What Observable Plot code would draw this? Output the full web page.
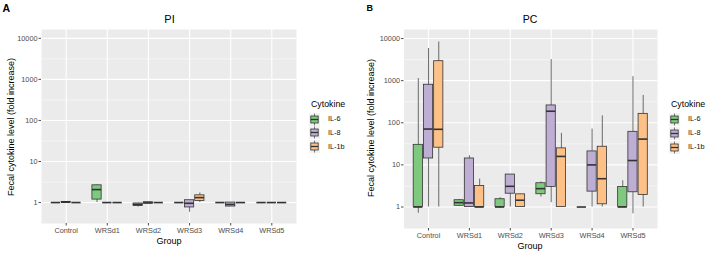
<!DOCTYPE html>
<html>
<head>
<meta charset="utf-8">
<script src="https://cdn.jsdelivr.net/npm/d3@7"></script>
<script src="https://cdn.jsdelivr.net/npm/@observablehq/plot@0.6"></script>
<style>
  html, body { margin: 0; padding: 0; background: #fff; }
  #wrap { position: relative; width: 708px; height: 253px; overflow: hidden; font-family: "Liberation Sans", Arial, sans-serif; }
  .abs { position: absolute; white-space: nowrap; line-height: 1; }
  .c { transform: translate(-50%, -50%); }
  .rot { transform: translate(-50%, -50%) rotate(-90deg); }
  .plot { position: absolute; top: 0; }
</style>
</head>
<body>
<div id="wrap"></div>
<script>
// ---------- data ----------
const groups = ["Control", "WRSd1", "WRSd2", "WRSd3", "WRSd4", "WRSd5"];
const cytokines = ["IL-6", "IL-8", "IL-1b"];
const colors = ["#7FC97F", "#BEAED4", "#FDC086"];
const yTicks = [1, 10, 100, 1000, 10000];
const yMinor = [3.162, 31.62, 316.2, 3162];

// each entry: [whisker low, Q1, median, Q3, whisker high], one per group
const piIL6  = [[1,1,1,1,1],[1.0,1.18,2.07,2.63,2.65],[0.78,0.82,0.9,0.95,0.97],[1,1,1,1,1],[1,1,1,1,1],[1,1,1,1,1]];
const piIL8  = [[1,1,1.02,1.04,1.04],[1,1,1,1,1],[0.95,0.95,0.98,1.02,1.02],[0.58,0.76,0.96,1.14,1.14],[0.8,0.8,0.9,1.0,1.0],[1,1,1,1,1]];
const piIL1b = [[1,1,1,1,1],[1,1,1,1,1],[1,1,1,1,1],[1.0,1.09,1.32,1.5,1.71],[1,1,1,1,1],[1,1,1,1,1]];

const pcIL6  = [[0.71,1,1,30,1120],[1.03,1.07,1.27,1.45,1.5],[0.93,1,1,1.53,1.67],[1.73,2.01,2.73,3.67,3.95],[1,1,1,1,1],[1,1,1,3.0,4.2]];
const pcIL8  = [[1,14.2,71,800,5800],[1,1,1.25,14.2,16.5],[1,2.07,3.1,5.9,5.9],[1.27,3.0,188,258,3170],[1,2.32,10,20.9,71],[0.69,2.24,12.7,61,1245]];
const pcIL1b = [[1,25.6,70,2900,8300],[1,1,1,3.17,4.6],[1,1,1.45,2.0,2.0],[1,1,15.9,24.7,56],[1,1.16,4.7,27,146],[1,1.93,41,163,446]];

function table(series) {
  const rows = [];
  series.forEach((s, ci) => s.forEach((v, gi) => rows.push({
    group: groups[gi], gi, cytokine: cytokines[ci], ci,
    lo: v[0], q1: v[1], med: v[2], q3: v[3], hi: v[4]
  })));
  return rows;
}

const dodge = 0.25, half = 0.1125;
const pos = d => d.gi + (d.ci - 1) * dodge;

function panel(rows, opts) {
  return Plot.plot({
    width: 354,
    height: 253,
    marginTop: opts.mt, marginBottom: opts.mb, marginLeft: opts.ml, marginRight: opts.mr,
    style: { fontFamily: "Liberation Sans, Arial, sans-serif", fontSize: "7.3px", background: "transparent" },
    x: { domain: [-0.6, 5.6] },
    y: { type: "log", domain: [Math.pow(10, -0.51), Math.pow(10, 4.215)] },
    color: { domain: cytokines, range: colors },
    marks: [
      Plot.frame({ fill: "#EBEBEB", stroke: null }),
      Plot.ruleY(yMinor, { stroke: "#fff", strokeWidth: 0.5 }),
      Plot.ruleY(yTicks, { stroke: "#fff", strokeWidth: 1.1 }),
      Plot.ruleX(groups.map((g, i) => i), { stroke: "#fff", strokeWidth: 1.1 }),
      Plot.ruleX(rows, { x: pos, y1: "lo", y2: "hi", stroke: "#5a5a5a", strokeWidth: 0.9 }),
      Plot.rectY(rows.filter(d => d.q3 > d.q1), {
        x1: d => pos(d) - half, x2: d => pos(d) + half, y1: "q1", y2: "q3",
        fill: "cytokine", stroke: "#333", strokeWidth: 0.8
      }),
      Plot.ruleY(rows, { x1: d => pos(d) - half, x2: d => pos(d) + half, y: "med", stroke: "#333", strokeWidth: 1.6 }),
      Plot.axisY(yTicks, { tickFormat: d => String(d), tickSize: 2.5, tickPadding: 1.5, color: "#4D4D4D", label: null }),
      Plot.axisX(groups.map((g, i) => i), { tickFormat: i => groups[i], tickSize: 2.5, tickPadding: 1.5, color: "#4D4D4D", label: null })
    ]
  });
}

const wrap = document.getElementById("wrap");

const left = panel(table([piIL6, piIL8, piIL1b]), { mt: 29, mb: 30, ml: 41, mr: 58 });
left.classList.add("plot"); left.style.left = "0px";
wrap.appendChild(left);

const right = panel(table([pcIL6, pcIL8, pcIL1b]), { mt: 29, mb: 25, ml: 49.5, mr: 51 });
right.classList.add("plot"); right.style.left = "354px";
wrap.appendChild(right);

function text(str, x, y, css, cls) {
  const d = document.createElement("div");
  d.className = "abs " + (cls || "");
  d.textContent = str;
  d.style.left = x + "px"; d.style.top = y + "px";
  Object.assign(d.style, css || {});
  wrap.appendChild(d);
  return d;
}

// panel tags and titles
text("A", 2.5, 2.5, { fontSize: "10.5px", fontWeight: "bold" });
text("B", 366.5, 3.5, { fontSize: "9px", fontWeight: "bold" });
text("PI", 169.5, 18.5, { fontSize: "11px" }, "c");
text("PC", 530, 18.5, { fontSize: "10.5px" }, "c");
// axis titles
text("Fecal cytokine level (fold increase)", 11, 127, { fontSize: "9px" }, "rot");
text("Fecal cytokine level (fold increase)", 371, 128, { fontSize: "9px" }, "rot");
text("Group", 169, 241, { fontSize: "9px" }, "c");
text("Group", 530, 246, { fontSize: "9px" }, "c");

// legends
function legend(x0, yTitle, rowsY, labelX) {
  text("Cytokine", x0, yTitle, { fontSize: "8.8px", transform: "translateY(-50%)" });
  cytokines.forEach((c, i) => {
    const svg = d3.create("svg").attr("width", 11).attr("height", 13)
      .style("position", "absolute").style("left", (x0 - 2) + "px").style("top", (rowsY[i] - 6.5) + "px");
    svg.append("rect").attr("x", 0).attr("y", 0).attr("width", 11).attr("height", 13).attr("fill", "#F2F2F2");
    svg.append("line").attr("x1", 5.5).attr("x2", 5.5).attr("y1", 0.5).attr("y2", 12.5).attr("stroke", "#5a5a5a").attr("stroke-width", 0.8);
    svg.append("rect").attr("x", 1.8).attr("y", 3).attr("width", 7.4).attr("height", 7)
      .attr("fill", colors[i]).attr("stroke", "#333").attr("stroke-width", 0.8);
    svg.append("line").attr("x1", 1.8).attr("x2", 9.2).attr("y1", 6.5).attr("y2", 6.5).attr("stroke", "#333").attr("stroke-width", 1.3);
    wrap.appendChild(svg.node());
    text(c, labelX, rowsY[i], { fontSize: "7.3px", color: "#111", transform: "translateY(-50%)" });
  });
}
legend(311, 104, [119, 132.8, 146.7], 328);
legend(671, 104, [119, 133.3, 147.3], 688);
</script>
</body>
</html>
